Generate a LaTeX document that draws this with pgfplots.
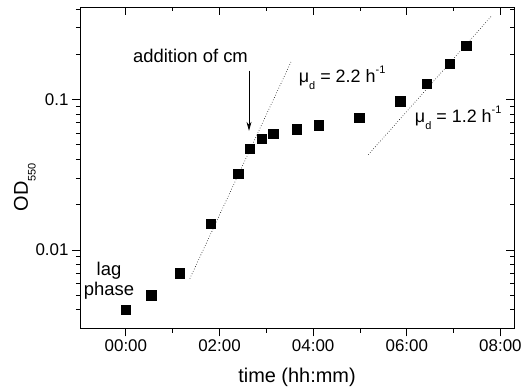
\documentclass[border=0pt]{standalone}
\usepackage{fontspec}
\setmainfont{Liberation Sans}
\usepackage{pgfplots}
\pgfplotsset{compat=1.18}
\usetikzlibrary{arrows.meta}
\newcommand{\mysub}[1]{\raisebox{-0.38em}{\fontsize{11}{12}\selectfont #1}}
\newcommand{\mysup}[1]{\raisebox{0.55em}{\fontsize{11}{12}\selectfont #1}}
\begin{document}
\begin{tikzpicture}
\useasboundingbox (-80bp,-60.5bp) rectangle (442bp,328.5bp);
\begin{axis}[
  ymode=log, log basis y=10,
  at={(0,0)}, anchor=south west,
  scale only axis, width=434bp, height=321bp,
  xmin=-0.98, xmax=8.29, ymin=0.003, ymax=0.41,
  xtick={0,2,4,6,8},
  minor xtick={1,3,5,7},
  ytick={0.01,0.1},
  minor ytick={0.004,0.005,0.006,0.007,0.008,0.009,0.02,0.03,0.04,0.05,0.06,0.07,0.08,0.09,0.2,0.3,0.4},
  major tick length=8bp, minor tick length=4bp,
  every tick/.style={black, line width=0.8bp},
  axis line style={line width=0.9bp},
  xtick pos=top, ytick pos=right, tick align=inside,
  xticklabels={}, yticklabels={},
]
\end{axis}
\begin{axis}[
  ymode=log, log basis y=10,
  at={(0,0)}, anchor=south west,
  scale only axis, width=434bp, height=321bp,
  xmin=-0.98, xmax=8.29, ymin=0.003, ymax=0.41,
  xtick={0,2,4,6,8},
  minor xtick={1,3,5,7},
  ytick={0.01,0.1},
  minor ytick={0.004,0.005,0.006,0.007,0.008,0.009,0.02,0.03,0.04,0.05,0.06,0.07,0.08,0.09,0.2,0.3,0.4},
  major tick length=8bp, minor tick length=4bp,
  every tick/.style={black, line width=0.8bp},
  axis line style={line width=0.9bp},
  xtick pos=bottom, ytick pos=left, tick align=outside,
  xticklabels={00:00,02:00,04:00,06:00,08:00},
  yticklabels={0.01,0.1},
  /pgf/number format/assume math mode=true,
  tick label style={font=\fontsize{17}{20}\selectfont},
  xlabel={time (hh:mm)}, ylabel={OD\mysub{550}},
  label style={font=\fontsize{20}{24}\selectfont},
  xlabel style={at={(axis description cs:0.5,-0.153)}, anchor=center},
  ylabel style={at={(axis description cs:-0.127,0.44)}, anchor=center, rotate=0},
  clip=false,
]
\addplot[only marks, mark=square*, mark size=4.7bp, black] coordinates {
(0.00,0.0040) (0.543,0.0050) (1.15,0.0070) (1.816,0.0150) (2.40,0.0320)
(2.65,0.0470) (2.90,0.0547) (3.15,0.0593) (3.65,0.0634) (4.12,0.0674)
(4.985,0.0755) (5.86,0.0975) (6.42,0.128) (6.92,0.174) (7.27,0.229)
};
\addplot[black, dotted, line width=0.6bp] coordinates {(1.365,0.00644) (3.53,0.179)};
\addplot[black, dotted, line width=0.6bp] coordinates {(5.178,0.043) (7.80,0.357)};
\draw[-{Stealth[length=9bp,width=5bp]}, line width=0.8bp] (axis cs:2.63,0.156) -- (axis cs:2.63,0.062);
\node[font=\fontsize{18.5}{21}\selectfont] at (axis cs:1.38,0.194) {addition of cm};
\node[font=\fontsize{18}{21}\selectfont, anchor=west] at (axis cs:3.62,0.14) {μ\mysub{d} = 2.2 h\mysup{-1}};
\node[font=\fontsize{18}{21}\selectfont, anchor=west] at (axis cs:6.10,0.0758) {μ\mysub{d} = 1.2 h\mysup{-1}};
\node[font=\fontsize{18.5}{20}\selectfont, align=center] at (axis cs:-0.36,0.0062) {lag\\phase};
\end{axis}
\end{tikzpicture}
\end{document}
